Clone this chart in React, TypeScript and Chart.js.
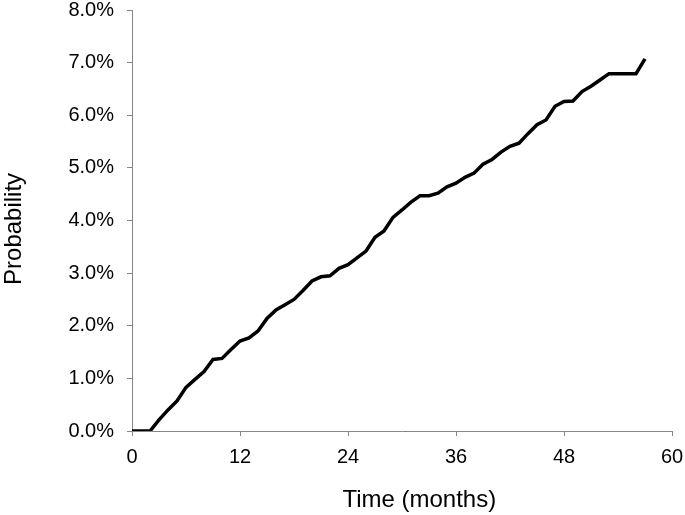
import React, { useEffect, useRef } from "react";
import { Chart, registerables } from "chart.js";

Chart.register(...registerables);

const months: number[] = [
  0, 1, 2, 3, 4, 5, 6, 7, 8, 9, 10, 11, 12, 13, 14, 15, 16, 17, 18, 19, 20,
  21, 22, 23, 24, 25, 26, 27, 28, 29, 30, 31, 32, 33, 34, 35, 36, 37, 38, 39,
  40, 41, 42, 43, 44, 45, 46, 47, 48, 49, 50, 51, 52, 53, 54, 55, 56, 57,
];

const probabilityPct: number[] = [
  0, 0, 0, 0.21, 0.4, 0.57, 0.83, 0.98, 1.13, 1.36, 1.38, 1.55, 1.71, 1.77,
  1.9, 2.14, 2.3, 2.4, 2.5, 2.67, 2.85, 2.93, 2.95, 3.09, 3.16, 3.29, 3.42,
  3.68, 3.8, 4.06, 4.2, 4.35, 4.47, 4.47, 4.52, 4.64, 4.71, 4.82, 4.9, 5.07,
  5.16, 5.3, 5.41, 5.47, 5.65, 5.82, 5.91, 6.17, 6.26, 6.27, 6.45, 6.55,
  6.67, 6.79, 6.79, 6.79, 6.79, 7.07,
];

const xTickStep = 12;
const xMax = 60;
const yMax = 8;
const xTitle = "Time (months)";
const yTitle = "Probability";

const FONT = "'Liberation Sans', Arial, sans-serif";
const AXIS_COLOR = "#868686";

// draws the two axis titles where the reference places them
const axisTitlesPlugin = {
  id: "axisTitles",
  afterDraw(chart: any) {
    const { ctx, chartArea } = chart;
    ctx.save();
    ctx.fillStyle = "#000000";
    ctx.font = `24px ${FONT}`;
    ctx.textAlign = "center";
    ctx.textBaseline = "middle";
    ctx.fillText(xTitle, chartArea.left + (chartArea.right - chartArea.left) * 0.532, 500);
    ctx.translate(14, chartArea.top + (chartArea.bottom - chartArea.top) * 0.52);
    ctx.rotate(-Math.PI / 2);
    ctx.fillText(yTitle, 0, 0);
    ctx.restore();
  },
};

export default function App() {
  const canvasRef = useRef<HTMLCanvasElement | null>(null);

  useEffect(() => {
    if (!canvasRef.current) return;
    const points = months.map((m, i) => ({ x: m, y: probabilityPct[i] }));
    const chart = new Chart(canvasRef.current, {
      type: "line",
      data: {
        datasets: [
          {
            data: points,
            borderColor: "#000000",
            borderWidth: 3.5,
            pointRadius: 0,
            pointHoverRadius: 0,
            pointHitRadius: 0,
            tension: 0,
            fill: false,
            borderJoinStyle: "miter",
          },
        ],
      },
      plugins: [axisTitlesPlugin],
      options: {
        animation: false,
        responsive: false,
        maintainAspectRatio: false,
        events: [],
        layout: {
          autoPadding: false,
          padding: 0,
        },
        plugins: {
          legend: { display: false },
          tooltip: { enabled: false },
        },
        scales: {
          x: {
            type: "linear",
            min: 0,
            max: xMax,
            grid: {
              display: true,
              drawOnChartArea: false,
              drawTicks: true,
              tickLength: 5,
              color: AXIS_COLOR,
            },
            border: { display: true, color: AXIS_COLOR, width: 1 },
            ticks: {
              stepSize: xTickStep,
              color: "#000000",
              padding: 11,
              maxRotation: 0,
              font: { family: FONT, size: 20, lineHeight: 1 },
            },
            title: { display: false, text: xTitle },
            afterFit: (scale: any) => {
              scale.height = 84;
              scale.paddingRight = 13;
              scale.paddingLeft = 0;
            },
          },
          y: {
            type: "linear",
            min: 0,
            max: yMax,
            grid: {
              display: true,
              drawOnChartArea: false,
              drawTicks: true,
              tickLength: 5,
              color: AXIS_COLOR,
            },
            border: { display: true, color: AXIS_COLOR, width: 1 },
            ticks: {
              stepSize: 1,
              color: "#000000",
              padding: 13,
              font: { family: FONT, size: 20, lineHeight: 1 },
              callback: (v: any) => Number(v).toFixed(1) + "%",
            },
            title: { display: false, text: yTitle },
            afterFit: (scale: any) => {
              scale.width = 132;
              scale.paddingTop = 10;
              scale.paddingBottom = 0;
            },
          },
        },
      },
    });
    return () => chart.destroy();
  }, []);

  return (
    <div
      style={{
        position: "absolute",
        left: 0,
        top: 0,
        width: 685,
        height: 515,
        background: "#ffffff",
      }}
    >
      <canvas ref={canvasRef} width={685} height={515} />
    </div>
  );
}
